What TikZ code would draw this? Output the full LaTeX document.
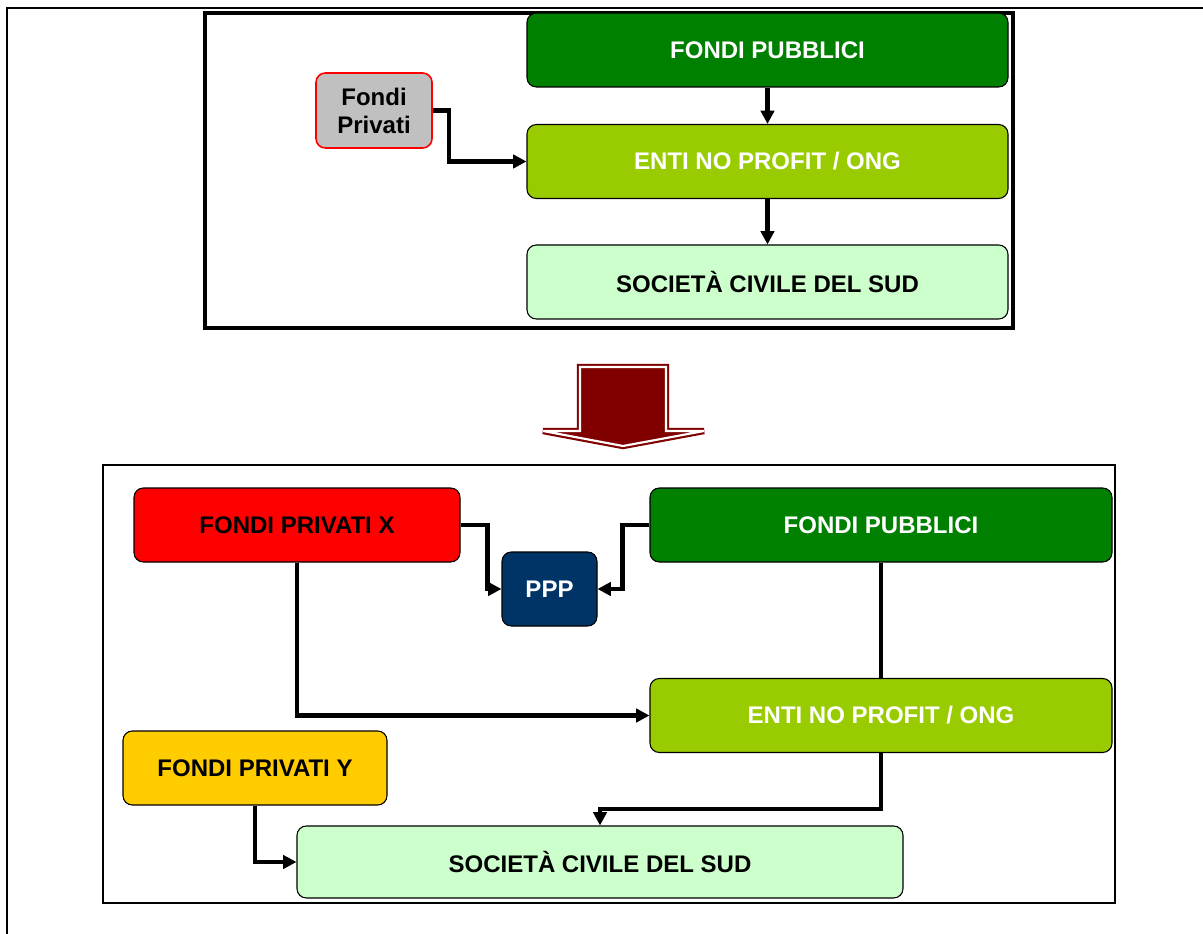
\documentclass[tikz,border=0pt]{standalone}
\usepackage{fontspec}
\setmainfont{Liberation Sans}
\usepackage{xcolor}
\usetikzlibrary{arrows.meta}

\definecolor{pubgreen}{HTML}{008000}
\definecolor{entigreen}{HTML}{99CC00}
\definecolor{socgreen}{HTML}{CCFFCC}
\definecolor{privgray}{HTML}{C0C0C0}
\definecolor{pppblue}{HTML}{003366}
\definecolor{privgold}{HTML}{FFCC00}
\definecolor{bigred}{HTML}{800000}

\begin{document}
\begin{tikzpicture}[x=0.75pt, y=-0.75pt, >={Triangle[length=10pt,width=10pt]}]
    % Define box shapes
    \tikzstyle{block}=[draw, rectangle, rounded corners=7pt, line width=0.8pt, minimum height=55.5pt, inner sep=2pt, font=\fontsize{18}{21}\selectfont\bfseries, align=center]
    \tikzstyle{link}=[line width=3.3pt]
    \tikzstyle{frame}=[draw, line width=2.8pt]

    \useasboundingbox (0,0) rectangle (1203,934);

    % Outer page frame
    \draw[line width=2pt] (1210,8) -- (7,8) -- (7,940);

    % Place old model
    \draw[frame] (205,13) rectangle (1013,328);
    \node[block, fill=pubgreen, text=white, minimum width=360.75pt] (pub1) at (767.5,50) {FONDI PUBBLICI};
    \node[block, fill=entigreen, text=white, minimum width=360.75pt] (enti1) at (767.5,161.5) {ENTI NO PROFIT / ONG};
    \node[block, fill=socgreen, minimum width=360.75pt] (soc1) at (767.5,282) {SOCIET\`A CIVILE DEL SUD};
    \node[block, draw=red, line width=1.2pt, fill=privgray, minimum width=87pt, minimum height=56.25pt] (priv1) at (374,110.5) {Fondi\\Privati};

    % Connect old model
    \draw[link,->] (pub1) -- (enti1);
    \draw[link,->] (enti1) -- (soc1);
    \draw[link,->] (priv1.east) -- ++(16,0) |- (enti1.west);

    % Big arrow between the two models
    \draw[draw=bigred, double=white, double distance=1.6pt, line width=1.6pt, fill=bigred, line join=miter]
        (580,367) -- (666,367) -- (666,431) -- (704,431) -- (623,446) -- (543,431) -- (580,431) -- cycle;

    % Place new model
    \draw[frame, line width=2.1pt] (103,465) rectangle (1115,903);
    \node[block, fill=red, minimum width=244.5pt] (privx) at (297,525) {FONDI PRIVATI X};
    \node[block, fill=pubgreen, text=white, minimum width=346.5pt] (pub2) at (881,525) {FONDI PUBBLICI};
    \node[block, fill=pppblue, text=white, minimum width=71.25pt] (ppp) at (549.5,589) {PPP};
    \node[block, fill=entigreen, text=white, minimum width=346.5pt] (enti2) at (881,715.5) {ENTI NO PROFIT / ONG};
    \node[block, fill=privgold, minimum width=198pt] (privy) at (255,768) {FONDI PRIVATI Y};
    \node[block, fill=socgreen, minimum width=454.5pt, minimum height=54pt] (soc2) at (600,862) {SOCIET\`A CIVILE DEL SUD};

    % Connect new model
    \draw[link,->] (privx.east) -- ++(27,0) |- (ppp.west);
    \draw[link,->] (pub2.west) -- ++(-27,0) |- (ppp.east);
    \draw[link,->] (privx.south) |- (enti2.west);
    \draw[link] (pub2) -- (enti2);
    \draw[link,->] (enti2.south) -- ++(0,56) -| (soc2.north);
    \draw[link,->] (privy.south) |- (soc2.west);
\end{tikzpicture}
\end{document}
